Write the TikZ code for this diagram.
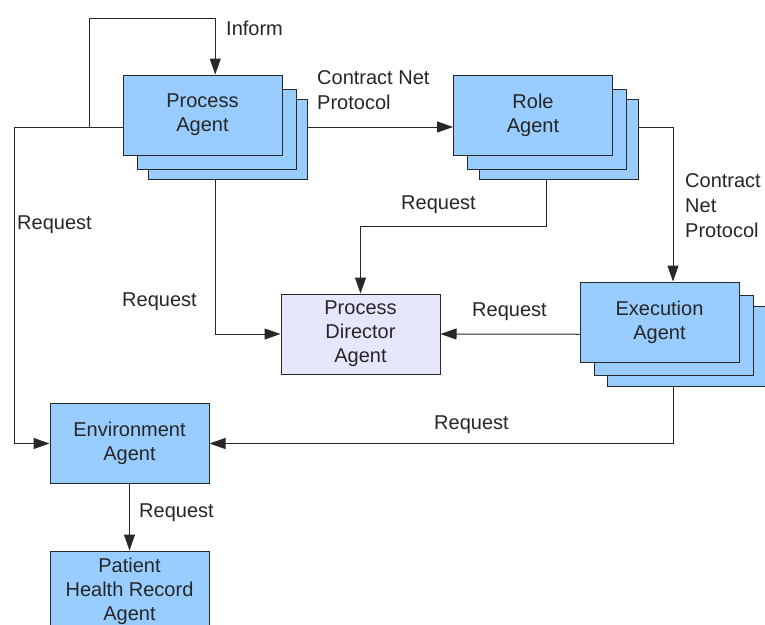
\documentclass[tikz,border=0pt]{standalone}
\usepackage{fontspec}
\setmainfont{Liberation Sans}
\usetikzlibrary{arrows.meta,fit}
\definecolor{agentblue}{RGB}{153,204,255}
\definecolor{dirfill}{RGB}{230,230,252}
\definecolor{linegray}{RGB}{40,40,40}
\begin{document}
\begin{tikzpicture}[x=1pt,y=-1pt,
  agent/.style={draw=linegray,fill=agentblue,line width=1pt,minimum width=159pt,minimum height=80pt,inner sep=0pt,align=center,font=\fontsize{20}{24}\selectfont,text=black!85},
  director/.style={agent,fill=dirfill},
  grp/.style={inner sep=0pt,outer sep=0pt},
  lbl/.style={inner sep=0pt,anchor=west,align=left,font=\fontsize{20}{25}\selectfont,text=black!85},
  conn/.style={draw=linegray,line width=1pt},
  arr/.style={conn,-{Triangle[length=16pt,width=11pt]}}]
\useasboundingbox (0,0) rectangle (765,624);
\fill[white] (0,0) rectangle (765,624);
% Process Agent stack
\node[agent] (pa3) at (228,139) {};
\node[agent] (pa2) at (216.5,129) {};
\node[agent] (pa) at (202.5,115) {Process\\Agent};
\node[grp,fit=(pa)(pa3)] (PA) {};
% Role Agent stack
\node[agent] (ra3) at (559,139) {};
\node[agent] (ra2) at (547,129) {};
\node[agent] (ra) at (533,115) {Role\\Agent};
\node[grp,fit=(ra)(ra3)] (RA) {};
% Execution Agent stack
\node[agent] (ea3) at (686.5,346.5) {};
\node[agent] (ea2) at (673.5,335) {};
\node[agent] (ea) at (659.5,322) {Execution\\Agent};
\node[grp,fit=(ea)(ea3)] (EA) {};
% Single agents
\node[director] (pd) at (360.5,334) {Process\\Director\\Agent};
\node[agent] (env) at (129.5,443.5) {Environment\\Agent};
\node[agent] (phr) at (129.5,591) {Patient\\Health Record\\Agent};
% helper coordinates
\coordinate (L) at (14,127);
\coordinate (J) at (89,127);
\coordinate (T) at (89,18);
% connectors
\draw[conn] (PA.west) -- (L);
\draw[arr] (L) |- (env.west);
\draw[arr] (J) -- (T) -| (PA.north);
\draw[arr] (PA.south) |- (pd.west);
\draw[arr] (PA.east) -- (RA.west);
\draw[arr] (RA.east) -| (EA.north);
\draw[arr] (RA.south) -- ++(0,47) -| (pd.north);
\draw[arr] (EA.west) -- (pd.east);
\draw[arr] (EA.south) |- (env.east);
\draw[arr] (env.south) -- (phr.north);
% labels
\node[lbl] (linform) at (226,28) {Inform};
\node[lbl] (lcnp1) at (317,90) {Contract Net\\Protocol};
\node[lbl] (lcnp2) at (685,206) {Contract\\Net\\Protocol};
\node[lbl] (lreq1) at (17,225) {Request};
\node[lbl] (lreq2) at (122,302) {Request};
\node[lbl] (lreq3) at (401,205) {Request};
\node[lbl] (lreq4) at (472,312) {Request};
\node[lbl] (lreq5) at (434,425) {Request};
\node[lbl] (lreq6) at (139,513) {Request};
\end{tikzpicture}
\end{document}
